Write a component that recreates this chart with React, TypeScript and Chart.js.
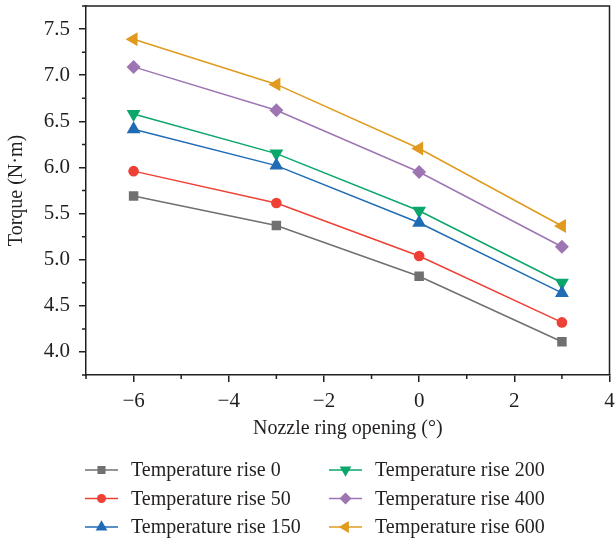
import React, { useEffect, useRef } from "react";
import { Chart, registerables } from "chart.js";
import { drawPoint } from "chart.js/helpers";

Chart.register(...registerables);

const xValues = [-6, -3, 0, 3];
const seriesLabels = [
  "Temperature rise 0",
  "Temperature rise 50",
  "Temperature rise 150",
  "Temperature rise 200",
  "Temperature rise 400",
  "Temperature rise 600",
];
const rise0 = [5.69, 5.37, 4.82, 4.11];
const rise50 = [5.96, 5.615, 5.04, 4.32];
const rise150 = [6.415, 6.02, 5.40, 4.64];
const rise200 = [6.58, 6.15, 5.53, 4.75];
const rise400 = [7.09, 6.62, 5.95, 5.14];
const rise600 = [7.39, 6.90, 6.205, 5.365];

const xTicks = [-6, -4, -2, 0, 2, 4];
const xMinorTicks = [-7, -5, -3, -1, 1, 3];
const yTicks = [4.0, 4.5, 5.0, 5.5, 6.0, 6.5, 7.0, 7.5];
const yMinorTicks = [3.75, 4.25, 4.75, 5.25, 5.75, 6.25, 6.75, 7.25, 7.75];

const seriesValues = [rise0, rise50, rise150, rise200, rise400, rise600];
const colors = ["#707072", "#ee4035", "#1f6cb5", "#0aa66a", "#9e75b3", "#e09b1e"];
const pointStyles = ["rect", "circle", "triangle", "triangle", "rectRot", "triangle"];
const pointRotations = [0, 0, 0, 180, 0, 270];
const pointRadii = [6.7, 5.3, 8, 8, 7, 8];

const AXIS = "#231f20";
const FONT = "'Liberation Serif', 'DejaVu Serif', serif";

const frame = {
  id: "frame",
  afterDraw(chart: any) {
    const { ctx, chartArea } = chart;
    const xs = chart.scales.x;
    const ys = chart.scales.y;
    ctx.save();
    ctx.strokeStyle = AXIS;
    ctx.lineWidth = 1.5;
    ctx.beginPath();
    ctx.moveTo(chartArea.left, chartArea.top);
    ctx.lineTo(chartArea.right, chartArea.top);
    ctx.lineTo(chartArea.right, chartArea.bottom);
    ctx.stroke();
    ctx.beginPath();
    for (const v of xMinorTicks) {
      const px = xs.getPixelForValue(v);
      ctx.moveTo(px, chartArea.bottom);
      ctx.lineTo(px, chartArea.bottom + 4);
    }
    for (const v of yMinorTicks) {
      const py = ys.getPixelForValue(v);
      ctx.moveTo(chartArea.left, py);
      ctx.lineTo(chartArea.left - 4, py);
    }
    ctx.stroke();

    // legend, column-major, 2 columns x 3 rows
    const colX = [85, 329];
    const rowY = [470, 498.5, 527];
    const lineLen = 33;
    ctx.font = `20px ${FONT}`;
    ctx.textBaseline = "middle";
    ctx.textAlign = "left";
    chart.data.datasets.forEach((ds: any, i: number) => {
      const col = Math.floor(i / 3);
      const row = i % 3;
      const x0 = colX[col];
      const y0 = rowY[row];
      ctx.strokeStyle = ds.borderColor;
      ctx.lineWidth = 1.5;
      ctx.beginPath();
      ctx.moveTo(x0, y0);
      ctx.lineTo(x0 + lineLen, y0);
      ctx.stroke();
      ctx.fillStyle = ds.pointBackgroundColor;
      ctx.strokeStyle = ds.pointBackgroundColor;
      drawPoint(
        ctx,
        {
          pointStyle: ds.pointStyle,
          rotation: ds.pointRotation,
          radius: ds.pointRadius * 0.85,
          borderWidth: 0,
        },
        x0 + lineLen / 2,
        y0
      );
      ctx.fillStyle = AXIS;
      ctx.fillText(ds.label, x0 + 46, y0 + 1);
    });
    ctx.restore();
  },
};

export default function App() {
  const ref = useRef<HTMLCanvasElement>(null);
  useEffect(() => {
    const datasets = seriesLabels.map((label, i) => ({
      label,
      data: xValues.map((x, j) => ({ x, y: seriesValues[i][j] })),
      borderColor: colors[i],
      backgroundColor: colors[i],
      pointBackgroundColor: colors[i],
      pointBorderColor: colors[i],
      pointBorderWidth: 0,
      pointStyle: pointStyles[i],
      pointRotation: pointRotations[i],
      pointRadius: pointRadii[i],
      borderWidth: 1.5,
      tension: 0,
      fill: false,
    }));
    const chart = new Chart(ref.current as HTMLCanvasElement, {
      type: "line",
      data: { datasets },
      plugins: [frame],
      options: {
        animation: false,
        responsive: false,
        events: [],
        layout: { autoPadding: false, padding: { left: 0, right: 5.5, top: 6, bottom: 100 } },
        plugins: { legend: { display: false }, tooltip: { enabled: false } },
        scales: {
          x: {
            type: "linear",
            min: -7,
            max: 4,
            afterBuildTicks: (s: any) => {
              s.ticks = xTicks.map((v) => ({ value: v }));
            },
            afterFit: (s: any) => {
              s.height = 66;
              s.paddingLeft = 0;
              s.paddingRight = 0;
            },
            ticks: {
              color: AXIS,
              padding: 7,
              maxRotation: 0,
              autoSkip: false,
              font: { family: FONT, size: 21 },
              callback: (v: any) => (Number(v) < 0 ? "\u2212" + Math.abs(Number(v)) : String(v)),
            },
            grid: {
              display: true,
              drawOnChartArea: false,
              drawTicks: true,
              tickLength: 7,
              color: AXIS,
              lineWidth: 1.5,
            },
            border: { display: true, color: AXIS, width: 1.5 },
            title: {
              display: true,
              text: "Nozzle ring opening (\u00b0)",
              color: AXIS,
              font: { family: FONT, size: 20 },
              padding: { top: 0, bottom: 0 },
            },
          },
          y: {
            type: "linear",
            min: 3.75,
            max: 7.75,
            afterBuildTicks: (s: any) => {
              s.ticks = yTicks.map((v) => ({ value: v }));
            },
            afterFit: (s: any) => {
              s.width = 86;
              s.paddingTop = 0;
              s.paddingBottom = 0;
            },
            ticks: {
              color: AXIS,
              padding: 9,
              autoSkip: false,
              font: { family: FONT, size: 21 },
              callback: (v: any) => Number(v).toFixed(1),
            },
            grid: {
              display: true,
              drawOnChartArea: false,
              drawTicks: true,
              tickLength: 7,
              color: AXIS,
              lineWidth: 1.5,
            },
            border: { display: true, color: AXIS, width: 1.5 },
            title: {
              display: true,
              text: "Torque (N\u00b7m)",
              color: AXIS,
              font: { family: FONT, size: 20 },
              padding: { top: 5, bottom: 0 },
            },
          },
        },
      },
    } as any);
    return () => chart.destroy();
  }, []);
  return (
    <div style={{ position: "absolute", left: 0, top: 0, width: 615, height: 541, background: "#fff" }}>
      <canvas ref={ref} width={615} height={541} style={{ width: 615, height: 541, display: "block" }} />
    </div>
  );
}
